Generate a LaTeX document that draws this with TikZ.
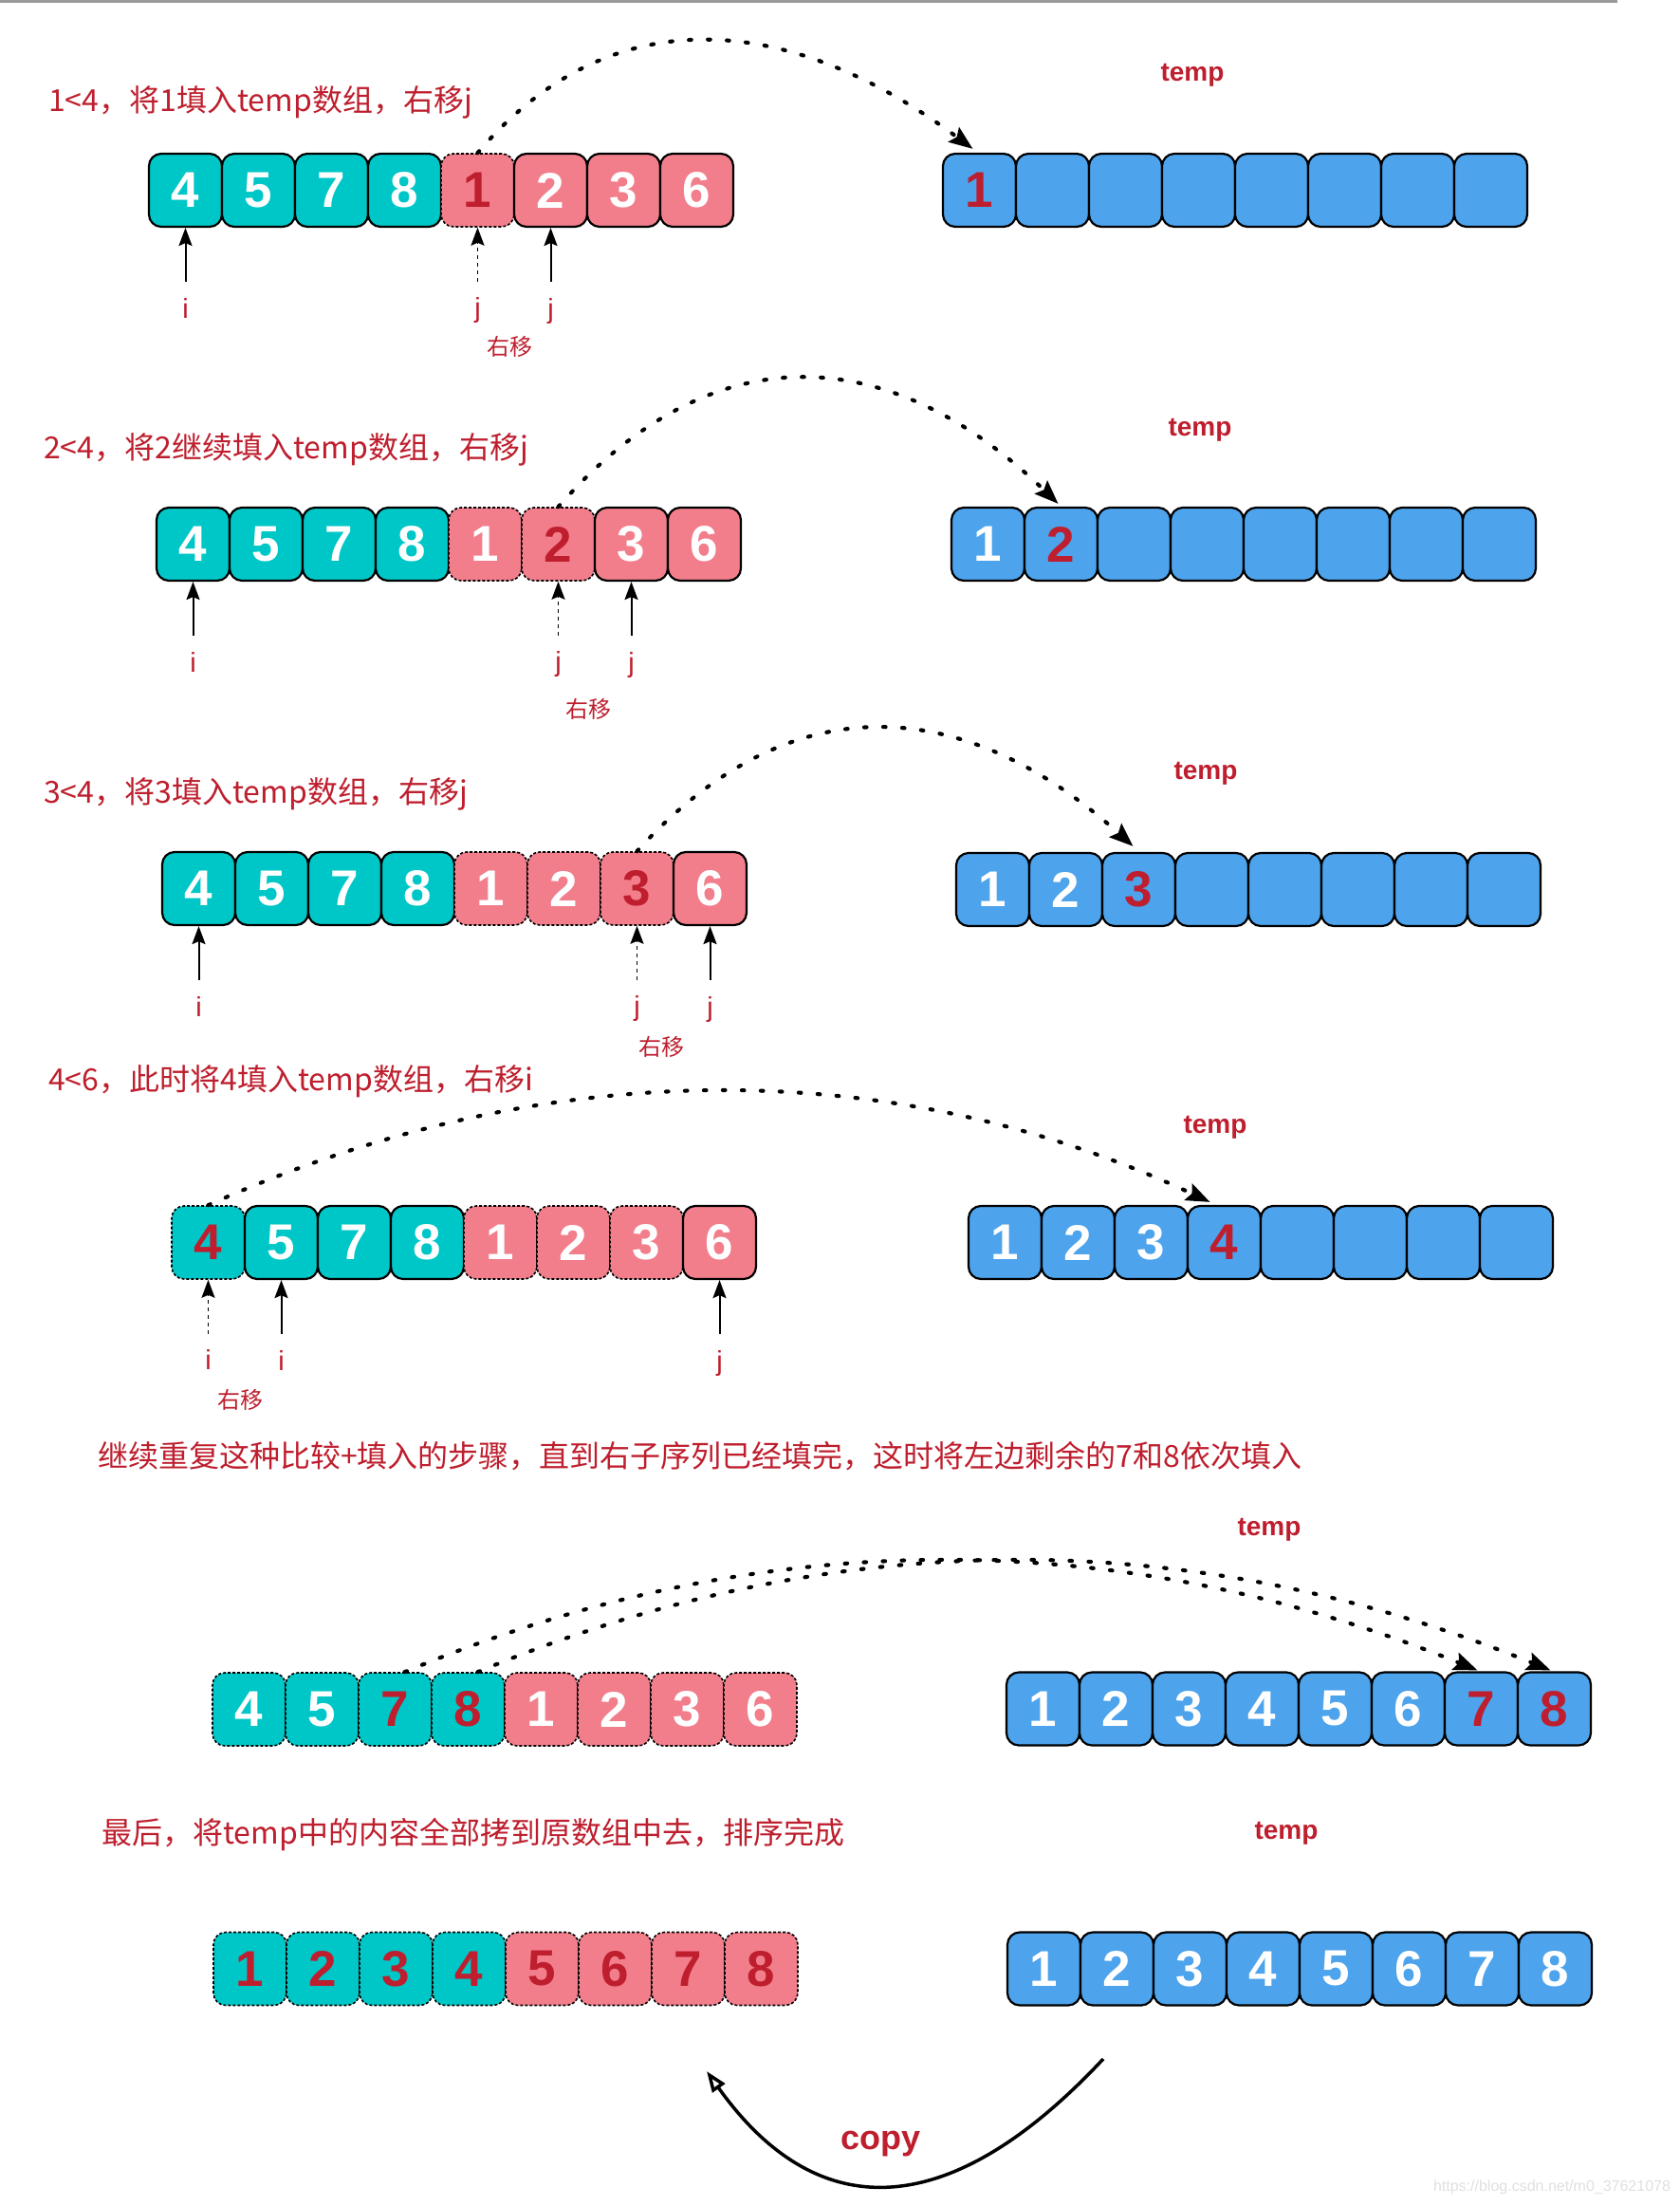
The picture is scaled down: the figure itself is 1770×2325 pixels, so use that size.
\documentclass[tikz,border=0pt]{standalone}
\usepackage{fontspec}
\setmainfont{Liberation Sans}
\newfontfamily\cjkfont{Noto Sans CJK SC}
\usetikzlibrary{arrows.meta,calc}
\definecolor{tealc}{RGB}{0,199,199}
\definecolor{pinkc}{RGB}{242,126,140}
\definecolor{bluec}{RGB}{77,163,236}
\definecolor{redc}{RGB}{190,30,45}
\newcommand\cellrow[4]{%
  \foreach \s/\n [count=\k] in {#4}
    {\node[\s] (#1\k) at ({#2+38.5+77*(\k-1)},#3) {\n};}%
}
\tikzset{
  cellbase/.style={rounded corners=13pt, minimum width=77pt, minimum height=77pt, inner sep=0pt,
    draw=black, line width=2.2pt, font=\fontsize{53}{53}\selectfont\bfseries, text=white},
  tcell/.style={cellbase, fill=tealc},
  pcell/.style={cellbase, fill=pinkc},
  bcell/.style={cellbase, fill=bluec},
  dashcell/.style={line width=1.6pt, dash pattern=on 3pt off 2pt},
  redtext/.style={text=redc},
  tdcell/.style={tcell,dashcell},
  tdrcell/.style={tcell,dashcell,redtext},
  pdcell/.style={pcell,dashcell},
  pdrcell/.style={pcell,dashcell,redtext},
  brcell/.style={bcell,redtext},
  heading/.style={font=\cjkfont\fontsize{32}{32}\selectfont, text=redc, anchor=base west, inner sep=0pt},
  templbl/.style={font=\fontsize{28}{28}\selectfont\bfseries, text=redc, inner sep=0pt},
  ptrlbl/.style={font=\fontsize{29}{29}\selectfont, text=redc, anchor=base, inner sep=0pt, text height=22pt},
  movelbl/.style={font=\cjkfont\fontsize{24}{24}\selectfont, text=redc, inner sep=0pt},
  ptr/.style={line width=2pt, -{Stealth[length=19pt,width=14pt,inset=3pt]}, shorten <=16pt},
  oldptr/.style={ptr, line width=1.5pt, dash pattern=on 4pt off 4pt},
  movearc/.style={line width=4.2pt, line cap=round, dash pattern=on 2.5pt off 17.5pt,
    -{Stealth[length=25pt,width=19pt,inset=4pt]}},
  copyarrow/.style={line width=3.5pt, -{Triangle[open,length=22pt,width=16pt]}},
  copylbl/.style={font=\fontsize{36}{36}\selectfont\bfseries, text=redc, inner sep=0pt},
}
\begin{document}
\begin{tikzpicture}[x=1pt,y=-1pt]
\fill[white] (0,0) rectangle (1770,2325);
\useasboundingbox (0,0) rectangle (1770,2325);
\fill[black!40] (0,0) rectangle (1705,3);

% ---------- Row 1
\node[heading] (h1) at (51,118) {1<4，将1填入temp数组，右移j};
\node[templbl] (tl1) at (1257,79) {temp};
\cellrow{a1c}{157}{200.5}{tcell/4,tcell/5,tcell/7,tcell/8,pdrcell/1,pcell/2,pcell/3,pcell/6}
\cellrow{t1c}{994}{200.5}{brcell/1,bcell/{},bcell/{},bcell/{},bcell/{},bcell/{},bcell/{},bcell/{}}
\node[ptrlbl] (p1i) at ($(a1c1.south)+(0,95)$) {i};
\node[ptrlbl] (p1k) at ($(a1c5.south)+(0,95)$) {j};
\node[ptrlbl] (p1j) at ($(a1c6.south)+(0,95)$) {j};
\node[movelbl] (m1) at (537,365) {右移};
\draw[ptr] (p1i.north) -- (a1c1.south);
\draw[oldptr] (p1k.north) -- (a1c5.south);
\draw[ptr] (p1j.north) -- (a1c6.south);
\draw[movearc] (a1c5.north) .. controls (640,0) and (827,9) .. ([shift={(-7,-4)}]t1c1.north);

% ---------- Row 2
\node[heading] (h2) at (46,483) {2<4，将2继续填入temp数组，右移j};
\node[templbl] (tl2) at (1265,453) {temp};
\cellrow{a2c}{165}{573.5}{tcell/4,tcell/5,tcell/7,tcell/8,pdcell/1,pdrcell/2,pcell/3,pcell/6}
\cellrow{t2c}{1003}{573.5}{bcell/1,brcell/2,bcell/{},bcell/{},bcell/{},bcell/{},bcell/{},bcell/{}}
\node[ptrlbl] (p2i) at ($(a2c1.south)+(0,95)$) {i};
\node[ptrlbl] (p2k) at ($(a2c6.south)+(0,95)$) {j};
\node[ptrlbl] (p2j) at ($(a2c7.south)+(0,95)$) {j};
\node[movelbl] (m2) at (620,747) {右移};
\draw[ptr] (p2i.north) -- (a2c1.south);
\draw[oldptr] (p2k.north) -- (a2c6.south);
\draw[ptr] (p2j.north) -- (a2c7.south);
\draw[movearc] (a2c6.north) .. controls (750,350) and (937,359) .. ([shift={(-3,-3)}]t2c2.north);

% ---------- Row 3
\node[heading] (h3) at (46,846) {3<4，将3填入temp数组，右移j};
\node[templbl] (tl3) at (1271,815) {temp};
\cellrow{a3c}{171}{936.5}{tcell/4,tcell/5,tcell/7,tcell/8,pdcell/1,pdcell/2,pdrcell/3,pcell/6}
\cellrow{t3c}{1008}{937.5}{bcell/1,bcell/2,brcell/3,bcell/{},bcell/{},bcell/{},bcell/{},bcell/{}}
\node[ptrlbl] (p3i) at ($(a3c1.south)+(0,95)$) {i};
\node[ptrlbl] (p3k) at ($(a3c7.south)+(0,95)$) {j};
\node[ptrlbl] (p3j) at ($(a3c8.south)+(0,95)$) {j};
\node[movelbl] (m3) at (697,1103) {右移};
\draw[ptr] (p3i.north) -- (a3c1.south);
\draw[oldptr] (p3k.north) -- (a3c7.south);
\draw[ptr] (p3j.north) -- (a3c8.south);
\draw[movearc] (a3c7.north) .. controls (830,722) and (1013,729) .. ([shift={(-6,-6)}]t3c3.north);

% ---------- Row 4
\node[heading] (h4) at (51,1149) {4<6，此时将4填入temp数组，右移i};
\node[templbl] (tl4) at (1281,1188) {temp};
\cellrow{a4c}{181}{1309.5}{tdrcell/4,tcell/5,tcell/7,tcell/8,pdcell/1,pdcell/2,pdcell/3,pcell/6}
\cellrow{t4c}{1021}{1309.5}{bcell/1,bcell/2,bcell/3,brcell/4,bcell/{},bcell/{},bcell/{},bcell/{}}
\node[ptrlbl] (p4k) at ($(a4c1.south)+(0,95)$) {i};
\node[ptrlbl] (p4i) at ($(a4c2.south)+(0,95)$) {i};
\node[ptrlbl] (p4j) at ($(a4c8.south)+(0,95)$) {j};
\node[movelbl] (m4) at (253,1475) {右移};
\draw[oldptr] (p4k.north) -- (a4c1.south);
\draw[ptr] (p4i.north) -- (a4c2.south);
\draw[ptr] (p4j.north) -- (a4c8.south);
\draw[movearc] (a4c1.north) .. controls (580,1108) and (947,1113) .. ([shift={(-15,-3)}]t4c4.north);

% ---------- Row 5
\node[heading] (h5) at (103,1546) {继续重复这种比较+填入的步骤，直到右子序列已经填完，这时将左边剩余的7和8依次填入};
\node[templbl] (tl5) at (1338,1612) {temp};
\cellrow{a5c}{224}{1801.5}{tdcell/4,tdcell/5,tdrcell/7,tdrcell/8,pdcell/1,pdcell/2,pdcell/3,pdcell/6}
\cellrow{t5c}{1061}{1801}{bcell/1,bcell/2,bcell/3,bcell/4,bcell/5,bcell/6,brcell/7,brcell/8}
\draw[movearc] ([xshift=10pt]a5c3.north) .. controls (801,1606) and (1178,1606) .. ([shift={(-4,-1)}]t5c7.north);
\draw[movearc] ([xshift=10pt]a5c4.north) .. controls (878,1606) and (1255,1606) .. ([shift={(-4,-1)}]t5c8.north);

% ---------- Row 6
\node[heading] (h6) at (107,1943) {最后，将temp中的内容全部拷到原数组中去，排序完成};
\node[templbl] (tl6) at (1356,1932) {temp};
\cellrow{a6c}{225}{2075}{tdrcell/1,tdrcell/2,tdrcell/3,tdrcell/4,pdrcell/5,pdrcell/6,pdrcell/7,pdrcell/8}
\cellrow{t6c}{1062}{2075}{bcell/1,bcell/2,bcell/3,bcell/4,bcell/5,bcell/6,bcell/7,bcell/8}

% ---------- copy arrow
\coordinate (cs) at (1163,2170);
\coordinate (ce) at (745,2183);
\draw[copyarrow] (cs) .. controls (1001,2343) and (862,2347) .. (ce);
\node[copylbl] (cp) at (928,2259) {copy};

\node[font=\fontsize{16}{16}\selectfont, text=black!12, inner sep=0pt] (wm) at (1636,2305) {https://blog.csdn.net/m0\_37621078};
\end{tikzpicture}
\end{document}
